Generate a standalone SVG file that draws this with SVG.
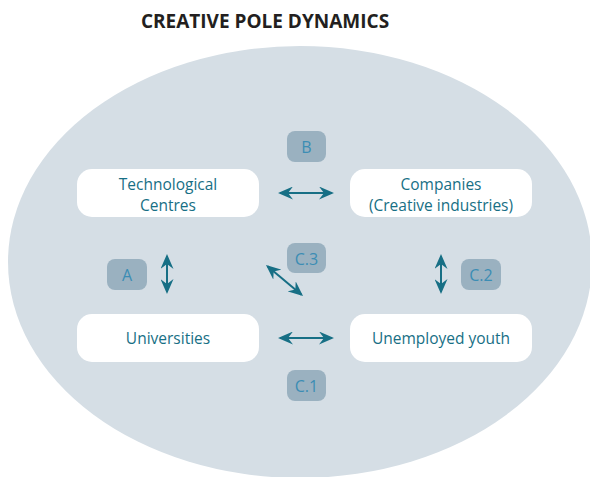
<svg xmlns="http://www.w3.org/2000/svg" width="590" height="477" viewBox="0 0 590 477">
<style>
.title{font-family:"Open Sans","Liberation Sans",sans-serif;font-weight:bold;font-size:19px;fill:#231f20}
.node rect{fill:#ffffff}
.node text{font-family:"Open Sans","Liberation Sans",sans-serif;font-size:15.5px;fill:#176f85;text-anchor:middle}
.badge rect{fill:#9ab1c0}
.badge text{font-family:"Open Sans","Liberation Sans",sans-serif;font-size:16px;fill:#3c8db4;text-anchor:middle}
.conn line{stroke:#176f85;stroke-width:2;marker-start:url(#ah);marker-end:url(#ah)}
</style>
<defs>
<marker id="ah" viewBox="0 0 15 13" refX="13" refY="6.5" markerWidth="15" markerHeight="13" markerUnits="userSpaceOnUse" orient="auto-start-reverse">
<path d="M0,0 L15,6.5 L0,13 L5,6.5 Z" fill="#176f85"/>
</marker>
</defs>
<rect width="590" height="477" fill="#ffffff"/>
<text class="title" x="265" y="28" text-anchor="middle">CREATIVE POLE DYNAMICS</text>
<ellipse cx="300" cy="262" rx="292" ry="216" fill="#d5dee5"/>
<g id="tech" class="node"><rect x="77" y="169" width="182" height="48" rx="15"/><text x="168" y="190">Technological</text><text x="168" y="211">Centres</text></g>
<g id="companies" class="node"><rect x="350" y="169" width="182" height="48" rx="15"/><text x="441" y="190">Companies</text><text x="441" y="211">(Creative industries)</text></g>
<g id="universities" class="node"><rect x="77" y="314" width="182" height="48" rx="15"/><text x="168" y="344">Universities</text></g>
<g id="youth" class="node"><rect x="350" y="314" width="182" height="48" rx="15"/><text x="441" y="344">Unemployed youth</text></g>
<g id="badge-b" class="badge"><rect x="287" y="131" width="39" height="31" rx="8"/><text x="306.5" y="153">B</text></g>
<g id="badge-a" class="badge"><rect x="107" y="259" width="40" height="31" rx="8"/><text x="127" y="281">A</text></g>
<g id="badge-c3" class="badge"><rect x="287" y="243" width="39" height="30" rx="8"/><text x="306.5" y="265">C.3</text></g>
<g id="badge-c2" class="badge"><rect x="461" y="259" width="40" height="31" rx="8"/><text x="481" y="281">C.2</text></g>
<g id="badge-c1" class="badge"><rect x="287" y="370" width="39" height="31" rx="8"/><text x="306.5" y="392">C.1</text></g>
<g id="connectors" class="conn">
<line x1="280" y1="193" x2="332" y2="193"/>
<line x1="280" y1="338" x2="332" y2="338"/>
<line x1="167" y1="256" x2="167" y2="292"/>
<line x1="441" y1="256" x2="441" y2="292"/>
<line x1="267.5" y1="266.3" x2="301.5" y2="294.7"/>
</g>
</svg>
